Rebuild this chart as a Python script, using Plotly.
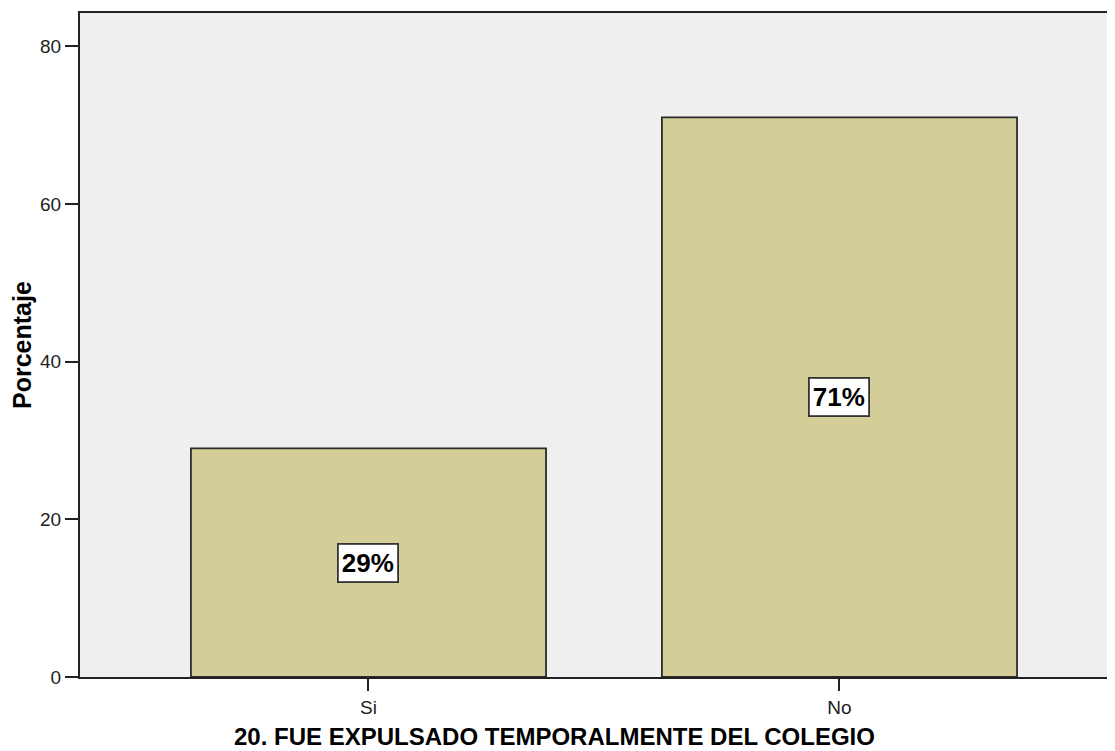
import plotly.graph_objects as go

categories = ["Si", "No"]
percentages = [29, 71]
value_labels = ["29%", "71%"]
y_ticks = [0, 20, 40, 60, 80]
x_title = "20. FUE EXPULSADO TEMPORALMENTE DEL COLEGIO"
y_title = "Porcentaje"

fig = go.Figure()
fig.add_trace(go.Bar(
    x=categories, y=percentages, width=0.754,
    marker=dict(color="#D3CE98", line=dict(color="#2b2b2b", width=1.8)),
    hoverinfo="skip",
))

for c, v, t in zip(categories, percentages, value_labels):
    fig.add_annotation(
        x=c, y=v / 2, text="<b>" + t + "</b>", showarrow=False,
        font=dict(family="Liberation Sans, Arial", size=26, color="black"),
        bgcolor="white", bordercolor="#333333", borderwidth=1.8, borderpad=3,
    )

fig.add_annotation(
    xref="paper", yref="paper", x=0.458, y=-0.1114, yanchor="bottom",
    text="<b>" + x_title + "</b>", showarrow=False, borderpad=0,
    font=dict(family="Liberation Sans, Arial", size=24, color="black"),
)
fig.add_annotation(
    xref="paper", yref="paper", x=-0.056, y=0.5, xanchor="center", yanchor="middle",
    textangle=-90, text="<b>" + y_title + "</b>", showarrow=False,
    font=dict(family="Liberation Sans, Arial", size=25, color="black"),
)

fig.update_layout(
    width=1107, height=743,
    margin=dict(l=72, r=0, t=5, b=74),
    paper_bgcolor="white", plot_bgcolor="#EFEFEF",
    showlegend=False,
    font=dict(family="Liberation Sans, Arial", size=19, color="#222222"),
    xaxis=dict(
        type="category", range=[-0.6125, 1.585],
        showline=True, linecolor="#222222", linewidth=2, mirror=True,
        ticks="outside", ticklen=12, tickcolor="#222222", tickwidth=1.5,
        showgrid=False, zeroline=False,
        tickfont=dict(size=19),
    ),
    yaxis=dict(
        range=[0, 84.24], tickvals=y_ticks,
        showline=True, linecolor="#222222", linewidth=2,
        ticks="outside", ticklen=13, tickcolor="#222222", tickwidth=1.5,
        showgrid=False, zeroline=False,
        tickfont=dict(size=19),
    ),
)

fig.write_html("out.html")
